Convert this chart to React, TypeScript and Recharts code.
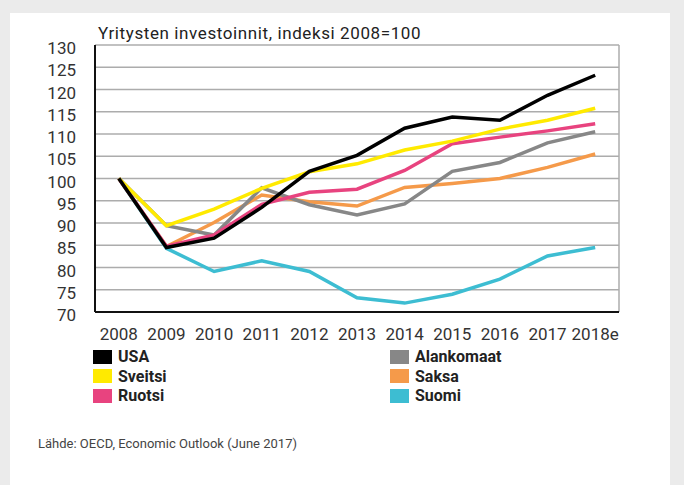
import React from 'react';
import { LineChart, Line, XAxis, YAxis, CartesianGrid } from 'recharts';

// Yritysten investoinnit, indeksi 2008=100
const years = ['2008', '2009', '2010', '2011', '2012', '2013', '2014', '2015', '2016', '2017', '2018e'];
const yTicks = [70, 75, 80, 85, 90, 95, 100, 105, 110, 115, 120, 125, 130];

const usa = [100, 84.5, 86.6, 93.5, 101.6, 105.2, 111.3, 113.8, 113.1, 118.7, 123.2];
const sveitsi = [100, 89.4, 93.1, 97.8, 101.5, 103.3, 106.4, 108.4, 111.1, 113.1, 115.8];
const ruotsi = [100, 84.8, 87.3, 94.2, 96.9, 97.6, 101.8, 107.8, 109.3, 110.7, 112.3];
const alankomaat = [100, 89.4, 87.3, 97.9, 94.1, 91.8, 94.3, 101.6, 103.6, 108.0, 110.5];
const saksa = [100, 84.7, 90.1, 96.3, 94.8, 93.8, 98.0, 98.9, 100.0, 102.5, 105.5];
const suomi = [100, 84.3, 79.1, 81.5, 79.1, 73.2, 72.0, 74.0, 77.4, 82.6, 84.5];

const series = [
  { key: 'suomi', name: 'Suomi', color: '#3dbdd2', values: suomi },
  { key: 'saksa', name: 'Saksa', color: '#f59a4a', values: saksa },
  { key: 'alankomaat', name: 'Alankomaat', color: '#878787', values: alankomaat },
  { key: 'ruotsi', name: 'Ruotsi', color: '#e8437f', values: ruotsi },
  { key: 'sveitsi', name: 'Sveitsi', color: '#ffea00', values: sveitsi },
  { key: 'usa', name: 'USA', color: '#000000', values: usa },
];

const legendOrder = [['usa', 'sveitsi', 'ruotsi'], ['alankomaat', 'saksa', 'suomi']];

const data = years.map((y, i) => {
  const row: Record<string, number | string> = { i, year: y };
  series.forEach(s => { row[s.key] = s.values[i]; });
  return row;
});

const gridTicks = years.slice(1).map((_, i) => i + 0.5);
const font = 'Roboto, "Liberation Sans", sans-serif';

export default function App() {
  return (
    <div style={{ position: 'absolute', left: 0, top: 0, width: 684, height: 485, background: '#ebebeb', fontFamily: font }}>
      <div style={{ position: 'absolute', left: 10, top: 13, width: 660, height: 472, background: '#fff' }} />
      <div style={{ position: 'absolute', left: 98, top: 23, fontSize: 17, lineHeight: '20px', letterSpacing: 0.6, color: '#222', whiteSpace: 'nowrap' }}>
        Yritysten investoinnit, indeksi 2008=100
      </div>
      <div style={{ position: 'absolute', left: 0, top: 0 }}>
        <LineChart width={684} height={360} data={data} margin={{ top: 45, right: 65, left: 25, bottom: 18 }}>
          <CartesianGrid xAxisId="grid" stroke="#acacac" strokeWidth={1.5} />
          <XAxis
            xAxisId="grid"
            orientation="top"
            type="number"
            dataKey="i"
            domain={[-0.5, 10.5]}
            ticks={gridTicks}
            height={0}
            tick={false}
            tickLine={false}
            axisLine={{ stroke: '#111', strokeWidth: 1.5 }}
          />
          <XAxis
            type="number"
            dataKey="i"
            domain={[-0.5, 10.5]}
            ticks={years.map((_, i) => i)}
            tickFormatter={(v: number) => years[v]}
            interval={0}
            height={30}
            tickLine={false}
            tickMargin={10}
            axisLine={{ stroke: '#111', strokeWidth: 2 }}
            tick={{ fill: '#333', fontSize: 17, fontFamily: font }}
          />
          <YAxis
            domain={[70, 130]}
            ticks={yTicks}
            interval={0}
            width={70}
            tickLine={false}
            tickSize={0}
            tickMargin={19}
            axisLine={{ stroke: '#111', strokeWidth: 2 }}
            tick={{ fill: '#333', fontSize: 17, fontFamily: font, dy: 3 }}
          />
          <YAxis
            yAxisId="right"
            orientation="right"
            domain={[70, 130]}
            width={0}
            tick={false}
            tickLine={false}
            axisLine={{ stroke: '#111', strokeWidth: 1.5 }}
          />
          {series.map(s => (
            <Line
              key={s.key}
              dataKey={s.key}
              name={s.name}
              stroke={s.color}
              strokeWidth={3.5}
              dot={false}
              activeDot={false}
              isAnimationActive={false}
              strokeLinejoin="miter"
            />
          ))}
        </LineChart>
      </div>
      {legendOrder.map((col, ci) => (
        <div key={ci} style={{ position: 'absolute', left: ci === 0 ? 93 : 390, top: 347 }}>
          {col.map(k => {
            const s = series.find(x => x.key === k)!;
            return (
              <div key={k} style={{ display: 'flex', alignItems: 'center', height: 19.5 }}>
                <span style={{ display: 'inline-block', width: 19, height: 14, background: s.color, marginRight: 6 }} />
                <span style={{ fontSize: 16, fontWeight: 700, color: '#222' }}>{s.name}</span>
              </div>
            );
          })}
        </div>
      ))}
      <div style={{ position: 'absolute', left: 38, top: 436, fontSize: 13, color: '#444', whiteSpace: 'nowrap' }}>
        Lähde: OECD, Economic Outlook (June 2017)
      </div>
    </div>
  );
}
